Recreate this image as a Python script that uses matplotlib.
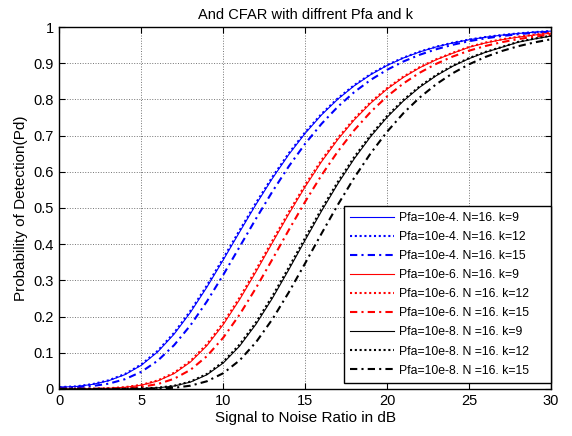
import matplotlib
matplotlib.use('Agg')
import matplotlib.pyplot as plt

plt.rcParams['font.family'] = ['Liberation Sans', 'DejaVu Sans']

snr = list(range(0, 31))  # SNR in dB

# Pfa=10e-4
pd_a9 = [0.0048, 0.0066, 0.0124, 0.0226, 0.0395, 0.0654, 0.1024, 0.1514, 0.2117, 0.2811, 0.3564,
         0.4338, 0.5099, 0.5817, 0.6476, 0.7062, 0.7572, 0.8009, 0.8377, 0.8684, 0.8937,
         0.9145, 0.9313, 0.9450, 0.9560, 0.9648, 0.9720, 0.9776, 0.9822, 0.9858, 0.9887]
pd_a12 = [0.0050, 0.0070, 0.0131, 0.0238, 0.0412, 0.0678, 0.1055, 0.1552, 0.2161, 0.2859, 0.3612,
          0.4386, 0.5144, 0.5859, 0.6513, 0.7094, 0.7600, 0.8033, 0.8397, 0.8700, 0.8950,
          0.9155, 0.9322, 0.9457, 0.9566, 0.9653, 0.9723, 0.9779, 0.9824, 0.9860, 0.9889]
pd_a15 = [0.0030, 0.0045, 0.0080, 0.0144, 0.0269, 0.0473, 0.0781, 0.1210, 0.1760, 0.2417, 0.3152,
          0.3928, 0.4706, 0.5454, 0.6150, 0.6776, 0.7326, 0.7800, 0.8203, 0.8539, 0.8818,
          0.9048, 0.9235, 0.9386, 0.9509, 0.9608, 0.9687, 0.9750, 0.9801, 0.9842, 0.9874]

# Pfa=10e-6
pd_b9 = [0.0001, 0.0002, 0.0006, 0.0018, 0.0045, 0.0104, 0.0220, 0.0424, 0.0743, 0.1194, 0.1778,
         0.2470, 0.3238, 0.4038, 0.4832, 0.5585, 0.6278, 0.6896, 0.7435, 0.7896, 0.8285,
         0.8610, 0.8877, 0.9096, 0.9274, 0.9440, 0.9560, 0.9650, 0.9720, 0.9780, 0.9830]
pd_b12 = [0.0001, 0.0003, 0.0007, 0.0019, 0.0049, 0.0112, 0.0234, 0.0446, 0.0774, 0.1236, 0.1827,
          0.2526, 0.3296, 0.4096, 0.4888, 0.5637, 0.6324, 0.6936, 0.7470, 0.7926, 0.8310,
          0.8630, 0.8894, 0.9109, 0.9286, 0.9450, 0.9570, 0.9660, 0.9730, 0.9790, 0.9840]
pd_b15 = [0.0000, 0.0001, 0.0002, 0.0008, 0.0022, 0.0057, 0.0134, 0.0280, 0.0528, 0.0904, 0.1416,
          0.2055, 0.2791, 0.3584, 0.4391, 0.5173, 0.5905, 0.6566, 0.7151, 0.7654, 0.8082,
          0.8442, 0.8739, 0.8983, 0.9183, 0.9345, 0.9475, 0.9581, 0.9666, 0.9733, 0.9788]

# Pfa=10e-8
pd_c9 = [0.0000, 0.0000, 0.0000, 0.0001, 0.0003, 0.0009, 0.0030, 0.0080, 0.0189, 0.0390, 0.0716,
         0.1183, 0.1789, 0.2505, 0.3294, 0.4111, 0.4913, 0.5671, 0.6361, 0.6973, 0.7504,
         0.7957, 0.8338, 0.8654, 0.8914, 0.9126, 0.9300, 0.9440, 0.9580, 0.9670, 0.9750]
pd_c12 = [0.0000, 0.0000, 0.0000, 0.0001, 0.0003, 0.0011, 0.0033, 0.0087, 0.0203, 0.0413, 0.0750,
          0.1228, 0.1843, 0.2566, 0.3358, 0.4174, 0.4974, 0.5727, 0.6411, 0.7017, 0.7541,
          0.7988, 0.8364, 0.8675, 0.8931, 0.9141, 0.9311, 0.9448, 0.9590, 0.9680, 0.9760]
pd_c15 = [0.0000, 0.0000, 0.0000, 0.0000, 0.0001, 0.0003, 0.0010, 0.0032, 0.0089, 0.0211, 0.0434,
          0.0790, 0.1291, 0.1927, 0.2669, 0.3472, 0.4294, 0.5092, 0.5838, 0.6512, 0.7106,
          0.7620, 0.8055, 0.8419, 0.8721, 0.8969, 0.9172, 0.9336, 0.9469, 0.9575, 0.9661]

labels = ['Pfa=10e-4. N=16. k=9', 'Pfa=10e-4. N=16. k=12', 'Pfa=10e-4. N=16. k=15',
          'Pfa=10e-6. N=16. k=9', 'Pfa=10e-6. N =16. k=12', 'Pfa=10e-6. N =16. k=15',
          'Pfa=10e-8. N =16. k=9', 'Pfa=10e-8. N =16. k=12', 'Pfa=10e-8. N =16. k=15']

fig = plt.figure(figsize=(5.72, 4.36), dpi=100)
ax = fig.add_axes([0.104, 0.108, 0.859, 0.830])

series = [pd_a9, pd_a12, pd_a15, pd_b9, pd_b12, pd_b15, pd_c9, pd_c12, pd_c15]
colors = ['b', 'b', 'b', 'r', 'r', 'r', 'k', 'k', 'k']
styles = ['-', (0, (1, 1.3)), (0, (3.5, 2, 1, 2))] * 3
widths = [0.8, 1.5, 1.5] * 3
for y, c, s, w, lab in zip(series, colors, styles, widths, labels):
    ax.plot(snr, y, color=c, linestyle=s, linewidth=w, label=lab)

ax.set_xlim(0, 30)
ax.set_ylim(0, 1)
ax.set_xticks(range(0, 31, 5))
ax.set_yticks([i / 10 for i in range(11)])
ax.set_yticklabels(['0', '0.1', '0.2', '0.3', '0.4', '0.5', '0.6', '0.7', '0.8', '0.9', '1'])
ax.tick_params(direction='in', top=True, right=True, length=4, labelsize=10.5, pad=4)
ax.grid(True, color='0.45', linestyle=':', linewidth=0.7)
for sp in ax.spines.values():
    sp.set_linewidth(1.0)

ax.set_title('And CFAR with diffrent Pfa and k', fontsize=10.5, pad=6)
ax.set_xlabel('Signal to Noise Ratio in dB', fontsize=11, labelpad=2)
ax.set_ylabel('Probability of Detection(Pd)', fontsize=11, labelpad=4)

leg = ax.legend(loc='lower left', bbox_to_anchor=(0.579, 0.017, 0.421, 0.48), mode='expand',
                borderaxespad=0, fontsize=8.8, handlelength=3.6, handletextpad=0.4,
                labelspacing=0.58, borderpad=0.5, fancybox=False, framealpha=1, edgecolor='k')
leg.get_frame().set_linewidth(1.0)

fig.savefig('out.png', dpi=100)
